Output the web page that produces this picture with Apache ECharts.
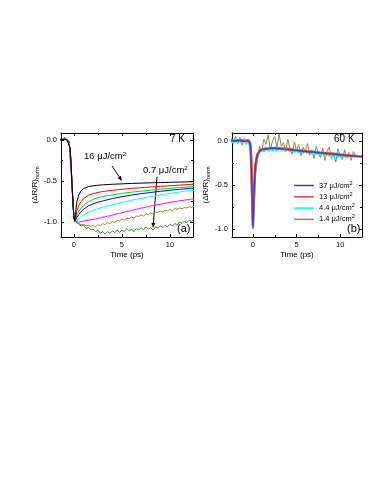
<!DOCTYPE html>
<html>
<head>
<meta charset="utf-8">
<script src="https://cdn.jsdelivr.net/npm/echarts@6/dist/echarts.min.js"></script>
<style>
html, body { margin: 0; padding: 0; background: #fff; }
#chart { width: 383px; height: 495px; }
</style>
</head>
<body>
<div id="chart"></div>
<script>
// panel (a), 7 K: smooth traces on a coarse time grid
const timeA = [-1.5, -1.0, -0.7, -0.5, -0.4, -0.3, -0.2, -0.1, 0, 0.1, 0.2, 0.3, 0.5, 0.75, 1, 1.5, 2, 2.5, 3, 4, 5, 6, 7, 8, 9, 10, 11, 12, 12.5]
const black16 = [0.0, 0.01, 0.0, -0.02, -0.1, -0.3, -0.55, -0.78, -0.95, -0.99, -0.85, -0.76, -0.67, -0.62, -0.595, -0.57, -0.56, -0.553, -0.548, -0.541, -0.536, -0.531, -0.527, -0.523, -0.52, -0.517, -0.514, -0.511, -0.51]
const redA = [0.0, 0.01, 0.0, -0.02, -0.1, -0.3, -0.55, -0.78, -0.95, -1.0, -0.93, -0.87, -0.8, -0.75, -0.715, -0.675, -0.655, -0.64, -0.63, -0.615, -0.603, -0.592, -0.583, -0.575, -0.567, -0.559, -0.551, -0.544, -0.541]
const greenA = [0.0, 0.01, 0.0, -0.02, -0.1, -0.3, -0.55, -0.78, -0.95, -1.0, -0.96, -0.92, -0.87, -0.83, -0.8, -0.755, -0.725, -0.705, -0.69, -0.67, -0.653, -0.638, -0.625, -0.613, -0.602, -0.591, -0.581, -0.572, -0.568]
const blueA = [0.0, 0.01, 0.0, -0.02, -0.1, -0.3, -0.55, -0.78, -0.95, -1.0, -0.98, -0.95, -0.91, -0.875, -0.845, -0.805, -0.78, -0.76, -0.745, -0.715, -0.693, -0.673, -0.656, -0.641, -0.627, -0.614, -0.603, -0.592, -0.588]
const cyanA = [0.0, 0.01, 0.0, -0.02, -0.1, -0.3, -0.55, -0.78, -0.95, -1.0, -0.99, -0.98, -0.96, -0.935, -0.915, -0.885, -0.86, -0.84, -0.823, -0.79, -0.762, -0.736, -0.713, -0.692, -0.672, -0.653, -0.635, -0.618, -0.612]

// panel (a): noisy low-fluence traces on a 0.25 ps grid
const timeN = [-1.5, -1.25, -1, -0.75, -0.5, -0.25, 0, 0.25, 0.5, 0.75, 1, 1.25, 1.5, 1.75, 2, 2.25, 2.5, 2.75, 3, 3.25, 3.5, 3.75, 4, 4.25, 4.5, 4.75, 5, 5.25, 5.5, 5.75, 6, 6.25, 6.5, 6.75, 7, 7.25, 7.5, 7.75, 8, 8.25, 8.5, 8.75, 9, 9.25, 9.5, 9.75, 10, 10.25, 10.5, 10.75, 11, 11.25, 11.5, 11.75, 12, 12.25, 12.5]
const magentaA = [0.0, 0.01, 0.0, 0.01, -0.02, -0.42, -0.95, -1.0, -1.005, -0.995, -0.99, -0.985, -0.98, -0.978, -0.968, -0.966, -0.955, -0.953, -0.942, -0.94, -0.93, -0.928, -0.915, -0.912, -0.9, -0.898, -0.888, -0.88, -0.873, -0.868, -0.858, -0.855, -0.845, -0.842, -0.83, -0.828, -0.818, -0.815, -0.805, -0.803, -0.795, -0.79, -0.784, -0.78, -0.772, -0.77, -0.762, -0.758, -0.752, -0.748, -0.742, -0.74, -0.735, -0.73, -0.728, -0.722, -0.72]
const oliveA = [0.01, 0.0, 0.02, 0.0, -0.03, -0.45, -0.96, -1.01, -1.02, -1.035, -1.03, -1.05, -1.04, -1.055, -1.045, -1.06, -1.035, -1.045, -1.02, -1.035, -1.01, -1.02, -0.995, -1.01, -0.98, -0.99, -0.965, -0.98, -0.955, -0.96, -0.94, -0.955, -0.93, -0.935, -0.915, -0.93, -0.905, -0.91, -0.89, -0.905, -0.88, -0.885, -0.87, -0.88, -0.86, -0.865, -0.85, -0.865, -0.84, -0.845, -0.83, -0.84, -0.825, -0.83, -0.815, -0.825, -0.81]
const dkgreenA = [0.02, 0.0, 0.03, 0.01, -0.02, -0.48, -0.97, -1.0, -1.03, -1.05, -1.04, -1.08, -1.07, -1.1, -1.09, -1.12, -1.1, -1.14, -1.12, -1.15, -1.12, -1.14, -1.11, -1.13, -1.1, -1.13, -1.1, -1.12, -1.08, -1.11, -1.09, -1.12, -1.08, -1.1, -1.07, -1.1, -1.06, -1.09, -1.07, -1.1, -1.06, -1.08, -1.05, -1.07, -1.04, -1.06, -1.03, -1.05, -1.02, -1.04, -1.0, -1.02, -0.99, -1.01, -0.98, -1.0, -0.97]

// panel (b), 60 K
const timeB = [-2.5, -2, -1.5, -1, -0.5, -0.3, -0.2, -0.1, 0, 0.1, 0.2, 0.3, 0.5, 0.75, 1, 1.5, 2, 2.5, 3, 4, 5, 6, 7, 8, 9, 10, 11, 12, 12.5]
const blue37 = [0.0, 0.005, 0.0, -0.005, 0.0, -0.03, -0.2, -0.6, -1.0, -0.68, -0.42, -0.27, -0.16, -0.12, -0.1, -0.09, -0.085, -0.085, -0.088, -0.097, -0.107, -0.118, -0.128, -0.138, -0.148, -0.157, -0.166, -0.175, -0.178]
const red13 = [0.005, 0.0, 0.01, 0.0, 0.005, -0.03, -0.19, -0.58, -0.97, -0.66, -0.41, -0.26, -0.155, -0.115, -0.095, -0.088, -0.082, -0.083, -0.086, -0.095, -0.106, -0.116, -0.127, -0.137, -0.146, -0.156, -0.165, -0.173, -0.177]
const timeBN = [-2.5, -2.25, -2, -1.75, -1.5, -1.25, -1, -0.75, -0.5, -0.25, 0, 0.25, 0.5, 0.75, 1, 1.25, 1.5, 1.75, 2, 2.25, 2.5, 2.75, 3, 3.25, 3.5, 3.75, 4, 4.25, 4.5, 4.75, 5, 5.25, 5.5, 5.75, 6, 6.25, 6.5, 6.75, 7, 7.25, 7.5, 7.75, 8, 8.25, 8.5, 8.75, 9, 9.25, 9.5, 9.75, 10, 10.25, 10.5, 10.75, 11, 11.25, 11.5, 11.75]
const cyan44 = [0.01, -0.02, 0.02, -0.01, 0.02, -0.02, 0.01, -0.015, 0.01, -0.1, -0.95, -0.33, -0.17, -0.12, -0.09, -0.12, -0.075, -0.11, -0.07, -0.105, -0.07, -0.11, -0.075, -0.1, -0.08, -0.115, -0.08, -0.12, -0.09, -0.125, -0.09, -0.13, -0.1, -0.135, -0.1, -0.14, -0.11, -0.145, -0.11, -0.15, -0.12, -0.155, -0.125, -0.16, -0.13, -0.17, -0.13, -0.175, -0.14, -0.18, -0.14, -0.185, -0.15, -0.19, -0.15, -0.19, -0.155, -0.185]
const olive14 = [0.03, -0.04, 0.05, -0.03, 0.04, -0.05, 0.03, -0.04, 0.02, -0.15, -0.92, -0.4, -0.22, -0.06, -0.12, 0.02, -0.04, 0.07, -0.1, 0.0, 0.05, -0.08, 0.08, -0.06, -0.02, -0.12, 0.02, -0.09, -0.15, -0.01, -0.11, -0.04, -0.17, -0.07, -0.12, -0.03, -0.16, -0.1, -0.2, -0.06, -0.14, -0.19, -0.08, -0.22, -0.12, -0.07, -0.2, -0.13, -0.24, -0.09, -0.17, -0.21, -0.1, -0.19, -0.13, -0.22, -0.12, -0.16]

const xTicks = [0, 5, 10]
const xMinor = [2.5, 7.5]
const yTicks = [0, -0.5, -1.0]
const yMinor = [-0.25, -0.75]

const FONT = 'Arial, "Liberation Sans", sans-serif'

const myChart = echarts.init(document.getElementById('chart'), null, { renderer: 'canvas' })

const zip = (t, v) => t.map((x, i) => [x, v[i]])

const tickStyle = { color: '#000', width: 1 }

// each grid gets 4 x axes and 4 y axes: major/minor ticks on both sides
function makeX(grid, min, max) {
	const base = { type: 'value', gridIndex: grid, min: min, max: max, splitLine: { show: false } }
	return [
		Object.assign({}, base, {
			position: 'bottom',
			axisLine: { show: true, onZero: false, lineStyle: { color: '#000', width: 1 } },
			axisTick: { inside: true, length: 3, customValues: xTicks, lineStyle: tickStyle },
			axisLabel: { customValues: xTicks, margin: 4, fontSize: 7.5, color: '#000', fontFamily: FONT },
			name: 'Time (ps)',
			nameLocation: 'middle',
			nameGap: 14,
			nameTextStyle: { fontSize: 8, color: '#000', fontFamily: FONT },
		}),
		Object.assign({}, base, {
			position: 'bottom',
			axisLine: { show: false, onZero: false },
			axisTick: { inside: true, length: 2, customValues: xMinor, lineStyle: tickStyle },
			axisLabel: { show: false },
		}),
		Object.assign({}, base, {
			position: 'top',
			axisLine: { show: true, onZero: false, lineStyle: { color: '#000', width: 1 } },
			axisTick: { inside: true, length: 3, customValues: xTicks, lineStyle: tickStyle },
			axisLabel: { show: false },
		}),
		Object.assign({}, base, {
			position: 'top',
			axisLine: { show: false, onZero: false },
			axisTick: { inside: true, length: 2, customValues: xMinor, lineStyle: tickStyle },
			axisLabel: { show: false },
		}),
	]
}

function makeY(grid, min, max, gap) {
	const base = { type: 'value', gridIndex: grid, min: min, max: max, splitLine: { show: false } }
	return [
		Object.assign({}, base, {
			position: 'left',
			axisLine: { show: true, onZero: false, lineStyle: { color: '#000', width: 1 } },
			axisTick: { inside: true, length: 3, customValues: yTicks, lineStyle: tickStyle },
			axisLabel: {
				customValues: yTicks,
				margin: 4,
				fontSize: 7.5,
				color: '#000',
				fontFamily: FONT,
				formatter: (v) => v.toFixed(1),
			},
			name: '(ΔR/R){sub|norm}',
			nameLocation: 'middle',
			nameGap: gap,
			nameTextStyle: {
				fontSize: 8,
				color: '#000',
				fontFamily: FONT,
				rich: { sub: { fontSize: 5.5, fontFamily: FONT, color: '#000', padding: [4, 0, 0, 0] } },
			},
		}),
		Object.assign({}, base, {
			position: 'left',
			axisLine: { show: false, onZero: false },
			axisTick: { inside: true, length: 2, customValues: yMinor, lineStyle: tickStyle },
			axisLabel: { show: false },
		}),
		Object.assign({}, base, {
			position: 'right',
			axisLine: { show: true, onZero: false, lineStyle: { color: '#000', width: 1 } },
			axisTick: { inside: true, length: 3, customValues: yTicks, lineStyle: tickStyle },
			axisLabel: { show: false },
		}),
		Object.assign({}, base, {
			position: 'right',
			axisLine: { show: false, onZero: false },
			axisTick: { inside: true, length: 2, customValues: yMinor, lineStyle: tickStyle },
			axisLabel: { show: false },
		}),
	]
}

const line = (name, t, v, color, width, axis) => ({
	name: name,
	type: 'line',
	xAxisIndex: axis,
	yAxisIndex: axis,
	data: zip(t, v),
	showSymbol: false,
	symbol: 'none',
	silent: true,
	animation: false,
	lineStyle: { color: color, width: width },
	itemStyle: { color: color },
})

// arrow for the fluence annotations
function arrow(x1, y1, x2, y2) {
	const dx = x2 - x1
	const dy = y2 - y1
	const len = Math.sqrt(dx * dx + dy * dy)
	const ux = dx / len
	const uy = dy / len
	const bx = x2 - ux * 5
	const by = y2 - uy * 5
	return [
		{ type: 'line', shape: { x1: x1, y1: y1, x2: bx, y2: by }, style: { stroke: '#000', lineWidth: 1 } },
		{
			type: 'polygon',
			shape: { points: [[x2, y2], [bx - uy * 2, by + ux * 2], [bx + uy * 2, by - ux * 2]] },
			style: { fill: '#000' },
		},
	]
}

const supRich = { sup: { fontSize: 6, fontFamily: FONT, color: '#000', padding: [0, 0, 5, 0] } }

const txt = (x, y, text, size) => ({
	type: 'text',
	style: { x: x, y: y, text: text, fill: '#000', fontSize: size, fontFamily: FONT, verticalAlign: 'top', rich: supRich },
})

const option = {
	animation: false,
	grid: [
		{ left: 61, top: 133, width: 132, height: 104, show: false },
		{ left: 232, top: 133, width: 130, height: 104, show: false },
	],
	xAxis: [].concat(makeX(0, -1.35, 12.4), makeX(1, -2.4, 12.5)),
	yAxis: [].concat(makeY(0, -1.185, 0.085, 20), makeY(1, -1.09, 0.09, 20)),
	legend: {
		data: ['37', '13', '4.4', '1.4'],
		orient: 'vertical',
		left: 289,
		top: 175,
		itemWidth: 20,
		itemHeight: 1.5,
		itemGap: 1.8,
		icon: 'rect',
		selectedMode: false,
		formatter: (n) => n + ' μJ/cm{sup|2}',
		textStyle: { fontSize: 7.5, color: '#000', fontFamily: FONT, rich: { sup: { fontSize: 5.5, fontFamily: FONT, color: '#000', padding: [0, 0, 5, 0] } } },
	},
	series: [
		line('a0.7', timeN, dkgreenA, '#2f8f2f', 1, 0),
		line('a1.4', timeN, oliveA, '#8b8b3c', 1, 0),
		line('a2.5', timeN, magentaA, '#ff00ff', 1, 0),
		line('a4', timeA, cyanA, '#00ffff', 1, 0),
		line('a6', timeA, blueA, '#0000ff', 1, 0),
		line('a9', timeA, greenA, '#00e000', 1, 0),
		line('a12', timeA, redA, '#ff0000', 1, 0),
		line('a16', timeA, black16, '#000000', 1, 0),
		line('1.4', timeBN, olive14, '#8b8b4b', 1, 4),
		line('4.4', timeBN, cyan44, '#00ffff', 2.5, 4),
		line('13', timeB, red13, '#ff3b3b', 2.5, 4),
		line('37', timeB, blue37, '#4040c0', 1.2, 4),
	],
	graphic: [
		txt(170, 134, '7 K', 10),
		txt(334, 134, '60 K', 10),
		txt(177, 223, '(a)', 11),
		txt(347, 223, '(b)', 11),
		txt(84, 151, '16 μJ/cm{sup|2}', 9.5),
		txt(143, 165, '0.7 μJ/cm{sup|2}', 9.5),
	]
		.concat(arrow(112, 166, 122, 181))
		.concat(arrow(157, 177, 153, 228)),
}

option && myChart.setOption(option)
</script>
</body>
</html>
